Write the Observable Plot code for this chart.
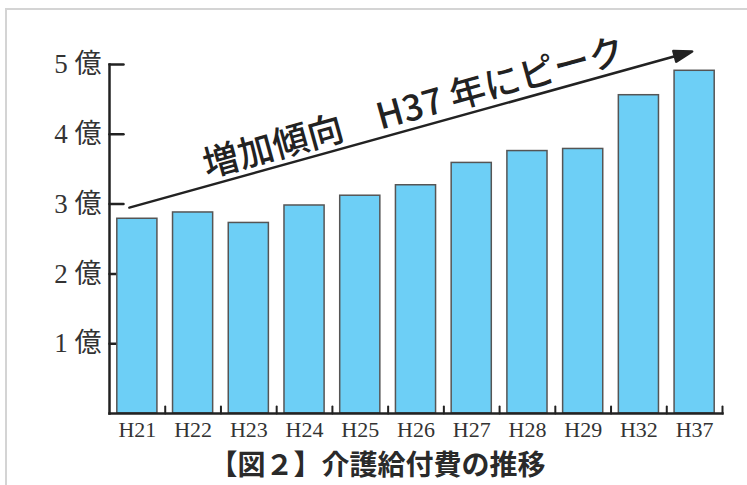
<!DOCTYPE html>
<html><head><meta charset="utf-8">
<script src="https://cdn.jsdelivr.net/npm/d3@7"></script>
<script src="https://cdn.jsdelivr.net/npm/@observablehq/plot@0.6"></script>
<style>
html,body{margin:0;padding:0;background:#fff;}
body{width:747px;height:485px;overflow:hidden;position:relative;}
#frame{position:absolute;left:5px;top:8px;width:800px;height:600px;border-top:2px solid #d4d4d4;border-left:2px solid #d4d4d4;}
#chart{position:absolute;left:0;top:0;}
#caption{position:absolute;left:4px;width:747px;top:447px;text-align:center;font-family:"Noto Sans CJK JP",sans-serif;font-weight:bold;font-size:28px;line-height:32px;color:#2a2a2a;}
</style></head><body>
<div id="frame"></div>
<div id="chart"></div>
<div id="caption"></div>
<script>
// ---- data ----
const years  = ["H21","H22","H23","H24","H25","H26","H27","H28","H29","H32","H37"];
const values = [2.79, 2.88, 2.73, 2.98, 3.12, 3.27, 3.59, 3.76, 3.79, 4.56, 4.91];
const yTicks = [1, 2, 3, 4, 5];
const unitLabel = "億";
const captionText = "【図２】介護給付費の推移";
const trendLabel = ["増加傾向　H37 年にピーク"];
const trendStart = [{x: "H21", y: 2.95}];
const trendLabelAt = [{x: "H26", y: 4.37}];

const data = years.map((year, i) => ({year, value: values[i]}));

const W = 747, H = 445, ML = 109, MR = 25, MT = 64, MB = 32;
const step = (W - ML - MR) / years.length;

const lineShape = {draw(c, l) { c.moveTo(0, 0); c.lineTo(0, -l); }};
const arrowShape = {draw(c, l) {
  const h = 18, w = 5.5;
  c.moveTo(0, 0); c.lineTo(0, -(l - h + 2));
  c.moveTo(0, -l); c.lineTo(-w, -l + h); c.lineTo(w, -l + h); c.closePath();
}};

const chart = Plot.plot({
  width: W, height: H,
  marginLeft: ML, marginRight: MR, marginTop: MT, marginBottom: MB,
  style: {fontFamily: "'Liberation Serif', 'Noto Sans CJK JP', serif", color: "#222", background: "transparent", overflow: "visible"},
  x: {domain: years, paddingInner: 0.28, paddingOuter: 0.14, align: 0.5, round: false},
  y: {domain: [0, 5]},
  marks: [
    // inward y ticks
    Plot.vector(yTicks, {y: d => d, frameAnchor: "left", rotate: 90, length: 14, anchor: "start", shape: lineShape, stroke: "#222", strokeWidth: 2.5}),
    Plot.axisY(yTicks, {tickSize: 0, tickPadding: 8, tickFormat: d => `${d} ${unitLabel}`, fontSize: 27, fill: "#333"}),
    // bars
    Plot.barY(data, {x: "year", y: "value", fill: "#6dcff6", stroke: "#555", strokeWidth: 1.5}),
    // small ticks on baseline at band boundaries
    Plot.vector(years, {x: d => d, frameAnchor: "bottom", dx: step / 2, length: 7, anchor: "start", shape: lineShape, stroke: "#222", strokeWidth: 2}),
    Plot.axisX({tickSize: 0, tickPadding: 8, fontSize: 22, fill: "#333"}),
    // axis lines
    Plot.frame({anchor: "left", stroke: "#222", strokeWidth: 2.5, strokeLinecap: "square"}),
    Plot.frame({anchor: "bottom", stroke: "#222", strokeWidth: 2.5, strokeLinecap: "square"}),
    // trend arrow
    Plot.vector(trendStart, {x: "x", y: "y", dx: -8, rotate: 74.5, length: 584, anchor: "start", shape: arrowShape, stroke: "#222", fill: "#222", strokeWidth: 2.5, strokeLinejoin: "round"}),
    Plot.text(trendLabelAt, {x: "x", y: "y", text: (d, i) => trendLabel[i], rotate: -15.5, dx: -2, fontSize: 36, fontWeight: 500, fontFamily: "'Noto Sans CJK JP', sans-serif", fill: "#222", textAnchor: "middle", lineAnchor: "middle"})
  ]
});
document.getElementById("chart").appendChild(chart);
document.getElementById("caption").textContent = captionText;
</script>
</body></html>
